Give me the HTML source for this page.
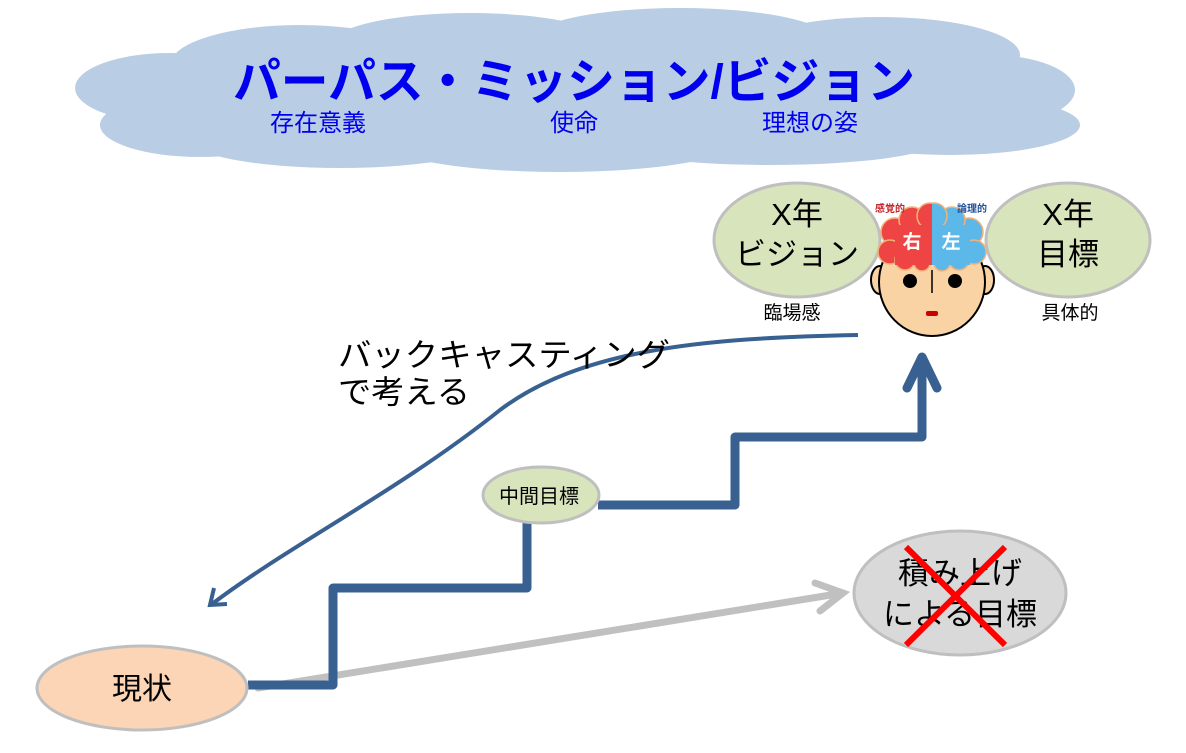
<!DOCTYPE html>
<html><head><meta charset="utf-8">
<style>
html,body{margin:0;padding:0;background:#fff;}
body{width:1186px;height:748px;overflow:hidden;position:relative;font-family:"Liberation Sans","Noto Sans CJK JP",sans-serif;}
svg text{font-family:"Liberation Sans","Noto Sans CJK JP",sans-serif;}
</style></head><body>
<svg width="1186" height="748" viewBox="0 0 1186 748" xmlns="http://www.w3.org/2000/svg">
<defs>
<clipPath id="lh"><rect x="870" y="200" width="62" height="80"/></clipPath>
<clipPath id="rh"><rect x="932" y="200" width="62" height="80"/></clipPath>
</defs>
<g fill="#b9cde4">
<ellipse cx="170" cy="88" rx="95" ry="35"/>
<ellipse cx="200" cy="125" rx="100" ry="32"/>
<ellipse cx="300" cy="65" rx="130" ry="40"/>
<ellipse cx="470" cy="45" rx="140" ry="32"/>
<ellipse cx="680" cy="40" rx="150" ry="32"/>
<ellipse cx="880" cy="55" rx="140" ry="38"/>
<ellipse cx="990" cy="90" rx="85" ry="35"/>
<ellipse cx="950" cy="125" rx="130" ry="30"/>
<ellipse cx="560" cy="140" rx="180" ry="32"/>
<ellipse cx="340" cy="140" rx="150" ry="28"/>
<ellipse cx="770" cy="140" rx="170" ry="25"/>
<ellipse cx="575" cy="95" rx="430" ry="55"/>
</g>
<text x="574" y="98" font-size="48" font-weight="bold" fill="#0000ee" text-anchor="middle" textLength="682" lengthAdjust="spacingAndGlyphs">パーパス・ミッション/ビジョン</text>
<g font-size="24" fill="#0000ee" text-anchor="middle">
<text x="318" y="131">存在意義</text>
<text x="574" y="131">使命</text>
<text x="810" y="131">理想の姿</text>
</g>

<g stroke="#c0c0c0" stroke-width="7" fill="none" stroke-linecap="round">
<line x1="258" y1="688" x2="843" y2="593"/>
<polyline points="815,583 843,593 820,611"/>
</g>
<polyline points="248,685 333,685 333,588 527,588 527,520" fill="none" stroke="#386192" stroke-width="9" stroke-linejoin="round"/>
<polyline points="598,505 735,505 735,437 922,437 922,362" fill="none" stroke="#386192" stroke-width="9" stroke-linejoin="round"/>
<polyline points="907,388 922,357 937,388" fill="none" stroke="#386192" stroke-width="9" stroke-linecap="round" stroke-linejoin="round"/>
<path d="M858,335 C700,338 580,350 500,410 C400,490 290,545 212,604" fill="none" stroke="#386192" stroke-width="4"/>
<polyline points="214,588 210,605 227,604" fill="none" stroke="#386192" stroke-width="4"/>
<g font-size="32" fill="#000">
<text x="338" y="366" textLength="332" lengthAdjust="spacingAndGlyphs">バックキャスティング</text>
<text x="338" y="403" textLength="132" lengthAdjust="spacingAndGlyphs">で考える</text>
</g>

<ellipse cx="142" cy="688" rx="105" ry="42" fill="#fbd5b5" stroke="#bfbfbf" stroke-width="3"/>
<text x="142" y="699" font-size="30" text-anchor="middle">現状</text>
<ellipse cx="541" cy="495" rx="58" ry="28" fill="#d8e4bc" stroke="#bfbfbf" stroke-width="3"/>
<text x="539" y="503" font-size="20" text-anchor="middle">中間目標</text>
<ellipse cx="960" cy="593" rx="106" ry="62" fill="#d9d9d9" stroke="#bfbfbf" stroke-width="3"/>
<g font-size="31" text-anchor="middle"><text x="960" y="584">積み上げ</text><text x="960" y="625">による目標</text></g>
<g stroke="#ff0000" stroke-width="6"><line x1="906" y1="547" x2="1005" y2="645"/><line x1="1005" y1="547" x2="906" y2="645"/></g>

<ellipse cx="797" cy="240" rx="83" ry="57" fill="#d8e4bc" stroke="#bfbfbf" stroke-width="3"/>
<g font-size="31" text-anchor="middle"><text x="797" y="225">X年</text><text x="797" y="265">ビジョン</text></g>
<ellipse cx="1068" cy="240" rx="82" ry="57" fill="#d8e4bc" stroke="#bfbfbf" stroke-width="3"/>
<g font-size="31" text-anchor="middle"><text x="1068" y="225">X年</text><text x="1068" y="265">目標</text></g>
<g font-size="19" text-anchor="middle"><text x="792" y="319">臨場感</text><text x="1070" y="319">具体的</text></g>

<g stroke="#000" stroke-width="2" fill="#f9d3a4">
<ellipse cx="880" cy="280" rx="9" ry="14"/>
<ellipse cx="985" cy="280" rx="9" ry="14"/>
<ellipse cx="932" cy="282" rx="53" ry="54"/>
</g>
<g clip-path="url(#lh)" fill="#ee4444" stroke="#f2b27a" stroke-width="1.5">
<circle cx="895" cy="232" r="14"/><circle cx="912" cy="220" r="13"/><circle cx="930" cy="216" r="13"/>
<circle cx="890" cy="252" r="12"/><circle cx="905" cy="260" r="10"/><circle cx="922" cy="263" r="8"/>
<rect x="895" y="225" width="40" height="40" stroke="none"/>
</g>
<g clip-path="url(#rh)" fill="#5bb8e8" stroke="#f2b27a" stroke-width="1.5">
<circle cx="969" cy="232" r="14"/><circle cx="952" cy="220" r="13"/><circle cx="934" cy="216" r="13"/>
<circle cx="974" cy="252" r="12"/><circle cx="959" cy="260" r="10"/><circle cx="942" cy="263" r="8"/>
<rect x="930" y="225" width="40" height="40" stroke="none"/>
</g>
<g font-size="19" font-weight="bold" fill="#fff" text-anchor="middle"><text x="912" y="248">右</text><text x="951" y="248">左</text></g>
<text x="890" y="212" font-size="10" font-weight="bold" fill="#c0282d" text-anchor="middle">感覚的</text>
<text x="972" y="212" font-size="10" font-weight="bold" fill="#1f4e9a" text-anchor="middle">論理的</text>
<circle cx="910" cy="281" r="7" fill="#000"/><circle cx="955" cy="281" r="7" fill="#000"/>
<line x1="932" y1="270" x2="932" y2="293" stroke="#000" stroke-width="1.5"/>
<rect x="926" y="311" width="12" height="5" rx="2" fill="#cc0000"/>
</svg>
</body></html>
